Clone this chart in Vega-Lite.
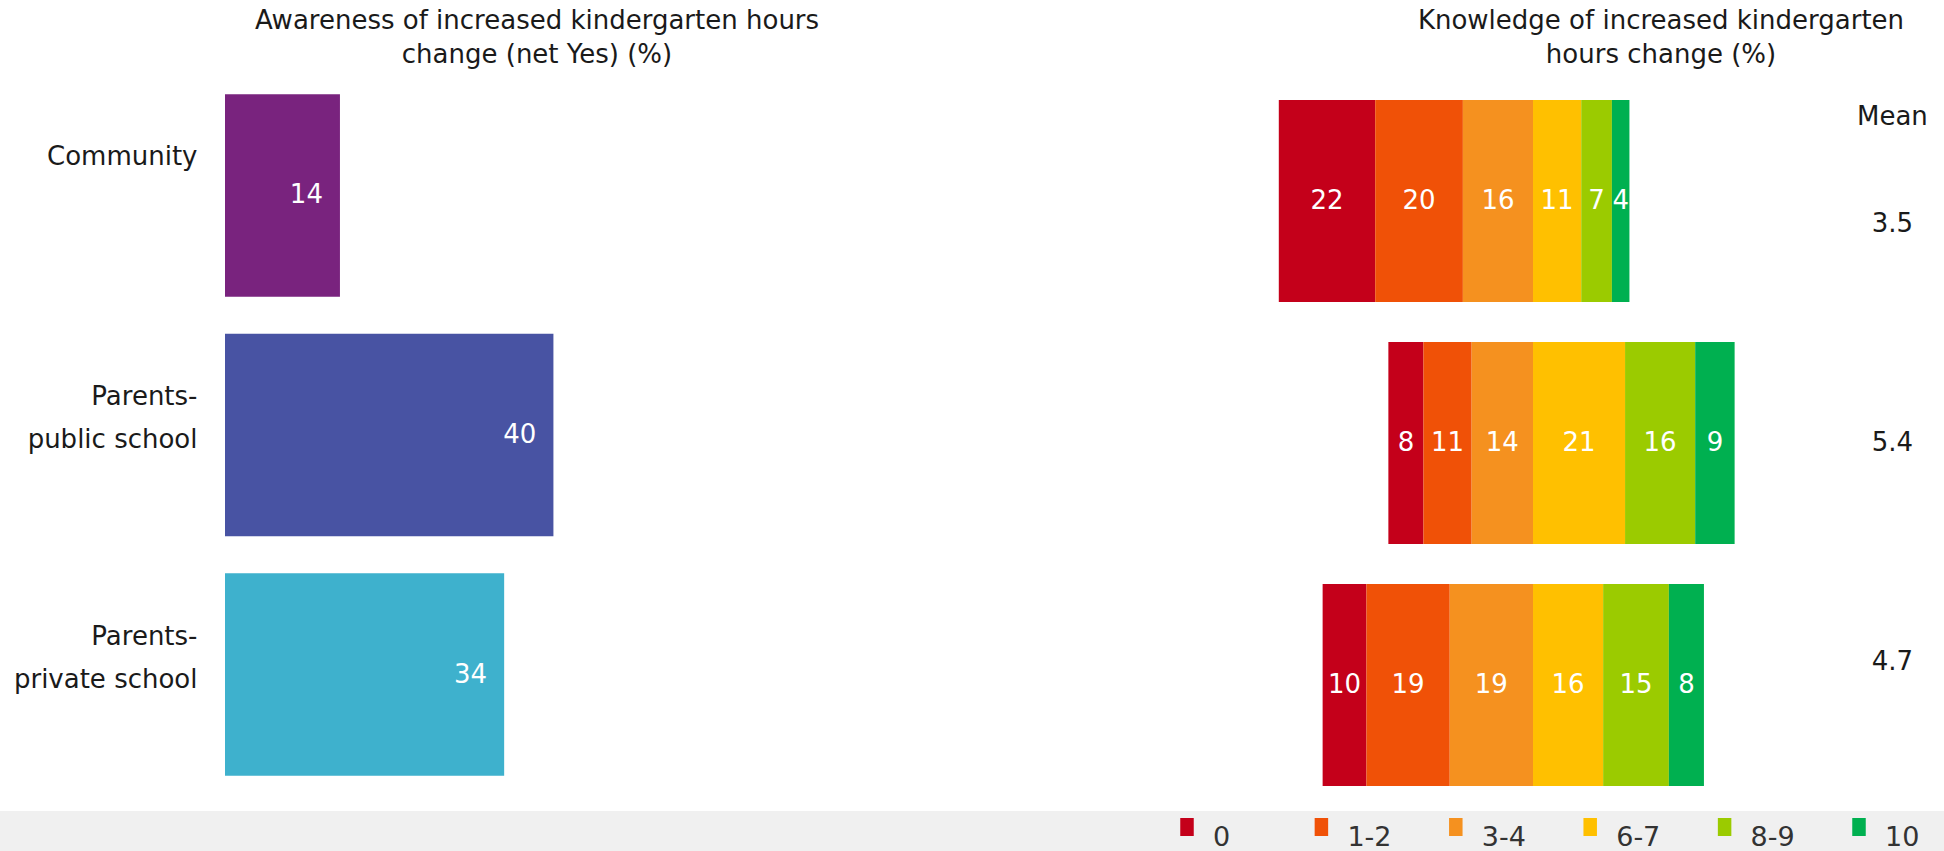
{
  "$schema": "https://vega.github.io/schema/vega-lite/v6.json",
  "padding": {"left": 0, "right": 0, "top": 8, "bottom": 0},
  "background": "white",
  "config": {
    "view": {"stroke": null},
    "font": "DejaVu Sans",
    "title": {"font": "DejaVu Sans", "fontSize": 26, "fontWeight": "normal", "color": "#1a1a1a", "lineHeight": 34, "anchor": "middle"}
  },
  "datasets": {
    "groups": [
      {"group": "Community", "aware": 14, "mean": 3.5},
      {"group": "Parents-public school", "aware": 40, "mean": 5.4},
      {"group": "Parents-private school", "aware": 34, "mean": 4.7}
    ],
    "knowledge": [
      {"group": "Community", "cat": "0", "lo": 0, "value": 22},
      {"group": "Community", "cat": "1-2", "lo": 1, "value": 20},
      {"group": "Community", "cat": "3-4", "lo": 3, "value": 16},
      {"group": "Community", "cat": "6-7", "lo": 6, "value": 11},
      {"group": "Community", "cat": "8-9", "lo": 8, "value": 7},
      {"group": "Community", "cat": "10", "lo": 10, "value": 4},
      {"group": "Parents-public school", "cat": "0", "lo": 0, "value": 8},
      {"group": "Parents-public school", "cat": "1-2", "lo": 1, "value": 11},
      {"group": "Parents-public school", "cat": "3-4", "lo": 3, "value": 14},
      {"group": "Parents-public school", "cat": "6-7", "lo": 6, "value": 21},
      {"group": "Parents-public school", "cat": "8-9", "lo": 8, "value": 16},
      {"group": "Parents-public school", "cat": "10", "lo": 10, "value": 9},
      {"group": "Parents-private school", "cat": "0", "lo": 0, "value": 10},
      {"group": "Parents-private school", "cat": "1-2", "lo": 1, "value": 19},
      {"group": "Parents-private school", "cat": "3-4", "lo": 3, "value": 19},
      {"group": "Parents-private school", "cat": "6-7", "lo": 6, "value": 16},
      {"group": "Parents-private school", "cat": "8-9", "lo": 8, "value": 15},
      {"group": "Parents-private school", "cat": "10", "lo": 10, "value": 8}
    ],
    "cats": [
      {"cat": "0", "lo": 0},
      {"cat": "1-2", "lo": 1},
      {"cat": "3-4", "lo": 3},
      {"cat": "6-7", "lo": 6},
      {"cat": "8-9", "lo": 8},
      {"cat": "10", "lo": 10}
    ]
  },
  "spacing": 0,
  "resolve": {"scale": {"color": "independent"}},
  "vconcat": [
    {
      "spacing": 401,
      "resolve": {"scale": {"color": "independent"}},
      "hconcat": [
        {
          "spacing": 0,
          "resolve": {"scale": {"color": "independent"}},
          "hconcat": [
            {"width": 13, "height": 10, "data": {"values": []}, "mark": "text"},
            {
              "data": {"name": "groups"},
              "width": 624,
              "height": 720,
              "title": {"text": ["Awareness of increased kindergarten hours", "change (net Yes) (%)"], "offset": 7},
              "encoding": {
                "y": {
                  "field": "group", "type": "nominal", "sort": null,
                  "scale": {"paddingInner": 0.155, "paddingOuter": 0.08},
                  "axis": {
                    "title": null, "ticks": false, "domain": false,
                    "labelFontSize": 26, "labelFont": "DejaVu Sans", "labelColor": "#1a1a1a",
                    "labelPadding": 28, "labelLineHeight": 43, "labelOffset": -38, "labelLimit": 400,
                    "labelExpr": "indexof(datum.label, '-') > 0 ? [slice(datum.label, 0, indexof(datum.label, '-') + 1), slice(datum.label, indexof(datum.label, '-') + 1)] : datum.label"
                  }
                }
              },
              "layer": [
                {
                  "mark": {"type": "bar"},
                  "encoding": {
                    "x": {"field": "aware", "type": "quantitative", "scale": {"domain": [0, 76], "nice": false}, "axis": null},
                    "color": {
                      "field": "group", "type": "nominal", "legend": null,
                      "scale": {"domain": ["Community", "Parents-public school", "Parents-private school"], "range": ["#79237E", "#4853A3", "#3EB1CD"]}
                    }
                  }
                },
                {
                  "mark": {"type": "text", "align": "right", "dx": -17, "color": "white", "fontSize": 26, "baseline": "middle"},
                  "encoding": {
                    "x": {"field": "aware", "type": "quantitative"},
                    "text": {"field": "aware", "type": "quantitative"}
                  }
                }
              ]
            }
          ]
        },
        {
          "width": 694,
          "height": 736,
          "title": {"text": ["Knowledge of increased kindergarten", "hours change (%)"], "offset": 7, "dx": 64},
          "resolve": {"scale": {"x": "independent", "y": "independent"}},
          "layer": [
            {
              "data": {"name": "knowledge"},
              "transform": [{"filter": "datum.lo < 5"}],
              "encoding": {
                "y": {"field": "group", "type": "nominal", "sort": null, "scale": {"paddingInner": 0.165, "paddingOuter": 0.103}, "axis": null},
                "order": {"field": "lo", "sort": "descending"}
              },
              "layer": [
                {
                  "mark": {"type": "bar"},
                  "encoding": {
                    "x": {"field": "value", "type": "quantitative", "stack": "zero", "scale": {"domain": [-93.77, 64.57], "reverse": true, "nice": false, "zero": false}, "axis": null},
                    "color": {
                      "field": "cat", "type": "nominal", "legend": null,
                      "scale": {"domain": ["0", "1-2", "3-4", "6-7", "8-9", "10"], "range": ["#C4001A", "#F05107", "#F5911F", "#FFC000", "#9BCB00", "#00B050"]}
                    }
                  }
                },
                {
                  "mark": {"type": "text", "color": "white", "fontSize": 26, "baseline": "middle"},
                  "encoding": {
                    "x": {"field": "value", "type": "quantitative", "stack": "zero", "bandPosition": 0.5},
                    "text": {"field": "value", "type": "quantitative"}
                  }
                }
              ]
            },
            {
              "data": {"name": "knowledge"},
              "transform": [{"filter": "datum.lo > 5"}],
              "encoding": {
                "y": {"field": "group", "type": "nominal", "sort": null, "scale": {"paddingInner": 0.165, "paddingOuter": 0.103}, "axis": null},
                "order": {"field": "lo", "sort": "ascending"}
              },
              "layer": [
                {
                  "mark": {"type": "bar"},
                  "encoding": {
                    "x": {"field": "value", "type": "quantitative", "stack": "zero", "scale": {"domain": [-64.57, 93.77], "nice": false, "zero": false}, "axis": null},
                    "color": {
                      "field": "cat", "type": "nominal", "legend": null,
                      "scale": {"domain": ["0", "1-2", "3-4", "6-7", "8-9", "10"], "range": ["#C4001A", "#F05107", "#F5911F", "#FFC000", "#9BCB00", "#00B050"]}
                    }
                  }
                },
                {
                  "mark": {"type": "text", "color": "white", "fontSize": 26, "baseline": "middle"},
                  "encoding": {
                    "x": {"field": "value", "type": "quantitative", "stack": "zero", "bandPosition": 0.5},
                    "text": {"field": "value", "type": "quantitative"}
                  }
                }
              ]
            },
            {
              "data": {"name": "groups"},
              "encoding": {
                "y": {"field": "group", "type": "nominal", "sort": null, "scale": {"type": "point", "padding": 0.684}, "axis": null},
                "x": {"datum": 82, "type": "quantitative", "scale": {"domain": [-64.57, 93.77], "nice": false, "zero": false}, "axis": null}
              },
              "layer": [
                {
                  "mark": {"type": "text", "fontSize": 26, "color": "#1a1a1a", "baseline": "middle"},
                  "encoding": {"text": {"field": "mean", "type": "quantitative", "format": ".1f"}}
                },
                {
                  "transform": [{"filter": "datum.group == 'Community'"}],
                  "mark": {"type": "text", "fontSize": 26, "color": "#1a1a1a", "baseline": "middle", "text": "Mean", "yOffset": -107}
                }
              ]
            }
          ]
        }
      ]
    },
    {
      "data": {"name": "cats"},
      "width": 1944,
      "height": 40,
      "view": {"fill": "#f0f0f0", "stroke": null},
      "encoding": {
        "x": {"field": "cat", "type": "nominal", "sort": null, "scale": {"type": "point", "padding": 0, "range": [1187, 1859]}, "axis": null}
      },
      "layer": [
        {
          "mark": {"type": "point", "shape": "M-0.75,-1H0.75V1H-0.75Z", "filled": true, "opacity": 1, "size": 324, "yOffset": -4},
          "encoding": {
            "color": {
              "field": "cat", "type": "nominal", "legend": null,
              "scale": {"domain": ["0", "1-2", "3-4", "6-7", "8-9", "10"], "range": ["#C4001A", "#F05107", "#F5911F", "#FFC000", "#9BCB00", "#00B050"]}
            }
          }
        },
        {
          "mark": {"type": "text", "align": "left", "dx": 26, "dy": 15, "baseline": "alphabetic", "fontSize": 27, "color": "#333333"},
          "encoding": {"text": {"field": "cat", "type": "nominal"}}
        }
      ]
    }
  ]
}
